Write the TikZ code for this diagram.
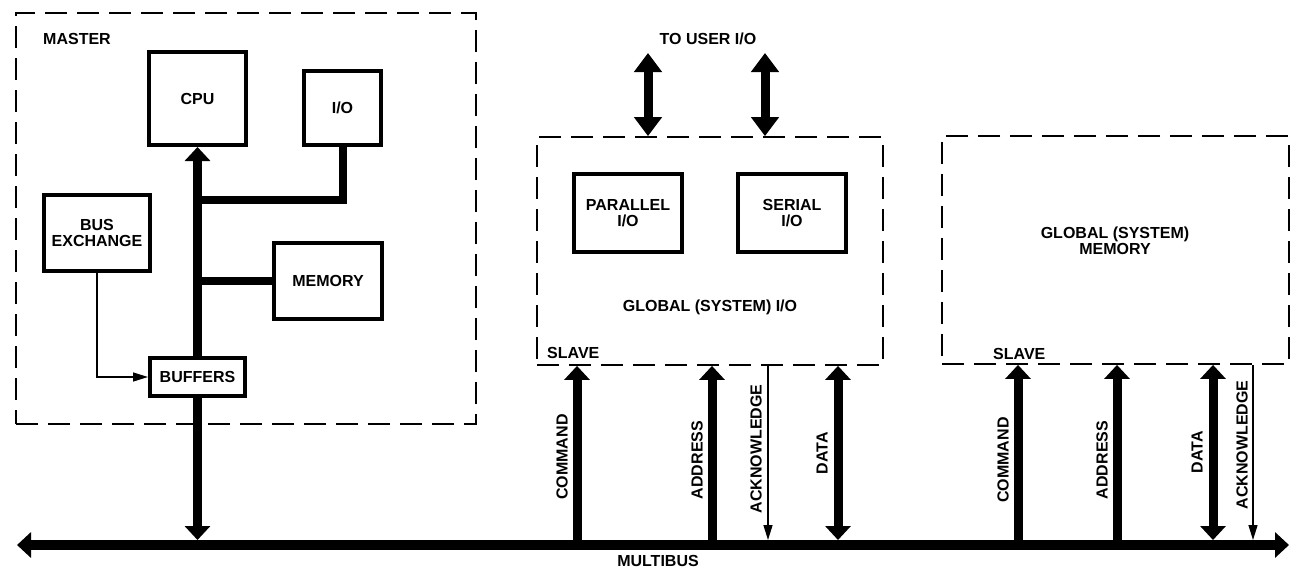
\documentclass[tikz,border=0pt]{standalone}
\usepackage{fontspec}
\setmainfont{Liberation Sans}
\usetikzlibrary{arrows.meta,calc}
\begin{document}
\begin{tikzpicture}[x=1pt,y=-1pt,
  every node/.style={font=\fontsize{16}{16.5}\selectfont\bfseries, inner sep=0pt, align=center},
  box/.style={draw, line width=4pt},
  dashbox/.style={draw, line width=1.8pt, dash pattern=on 22pt off 10pt},
  busline/.style={line width=9pt},
  bigtip/.style={-{Triangle[length=14pt,width=25pt]}},
  bigtips/.style={{Triangle[length=14pt,width=25pt]}-{Triangle[length=14pt,width=25pt]}},
  usertips/.style={{Triangle[length=19pt,width=27pt]}-{Triangle[length=19pt,width=27pt]}},
  thinarrow/.style={line width=1.4pt, -{Triangle[length=15pt,width=9pt]}}
]
\useasboundingbox (0,0) rectangle (1300,573);

% ---------- MASTER ----------
\node[dashbox, minimum width=460pt, minimum height=411pt] (master) at (246,218.5) {};
\node[anchor=west] (masterlbl) at (43,39) {MASTER};
\node[box, minimum width=97pt, minimum height=93pt] (cpu) at (197.5,98.5) {CPU};
\node[box, minimum width=77pt, minimum height=74pt] (io) at (342.5,108) {I/O};
\node[box, minimum width=106pt, minimum height=76pt] (bx) at (97,233) {BUS\\EXCHANGE};
\node[box, minimum width=108pt, minimum height=76pt] (mem) at (328,281) {MEMORY};
\node[box, minimum width=95pt, minimum height=38pt] (buf) at (197.5,377) {BUFFERS};

% ---------- MULTIBUS ----------
\coordinate (busL) at (17,545);
\coordinate (busR) at (1289,545);
\draw[line width=10pt, bigtips] (busL) -- (busR);
\node (multibus) at (658,561) {MULTIBUS};

% master internal bus
\coordinate (j1) at (197.5,200);
\coordinate (j2) at (197.5,281);
\draw[busline, bigtip] (buf.north) -- (cpu.south);
\draw[line width=8pt] (io.south) |- (j1);
\draw[line width=8pt] (mem.west) -- (j2);
\draw[thinarrow] (bx.south) |- (buf.west);
\coordinate (b0) at (197.5,545);
\draw[busline, bigtip, shorten >=5pt] (buf.south) -- (b0);

% ---------- GLOBAL I/O ----------
\node[dashbox, minimum width=346pt, minimum height=228pt] (gio) at (710,251) {};
\node (touser) at (708,39) {TO USER I/O};
\coordinate (u1) at (648,53);
\coordinate (u2) at (765,53);
\draw[busline, usertips] (u1) -- (u1 |- gio.north);
\draw[busline, usertips] (u2) -- (u2 |- gio.north);
\node[box, minimum width=108pt, minimum height=78pt] (par) at (628,213) {PARALLEL\\I/O};
\node[box, minimum width=108pt, minimum height=78pt] (ser) at (792,213) {SERIAL\\I/O};
\node (giolbl) at (710,307) {GLOBAL (SYSTEM) I/O};
\node[anchor=west] (slave1) at (547,353) {SLAVE};

\coordinate (c1) at (577,545);
\coordinate (a1) at (712,545);
\coordinate (k1) at (768,545);
\coordinate (d1) at (838,545);
\draw[busline, bigtip] (c1) -- (c1 |- gio.south);
\draw[busline, bigtip] (a1) -- (a1 |- gio.south);
\draw[thinarrow, shorten >=5pt] (k1 |- gio.south) -- (k1);
\draw[busline, bigtips, shorten <=5pt] (d1) -- (d1 |- gio.south);
\node[rotate=90] (cmd1) at (562,457) {COMMAND};
\node[rotate=90] (adr1) at (697,460) {ADDRESS};
\node[rotate=90] (ack1) at (756,449) {ACKNOWLEDGE};
\node[rotate=90] (dat1) at (822,453) {DATA};

% ---------- GLOBAL MEMORY ----------
\node[dashbox, minimum width=347pt, minimum height=228pt] (gmem) at (1115.5,250) {};
\node (gmemlbl) at (1115,241) {GLOBAL (SYSTEM)\\MEMORY};
\node[anchor=west] (slave2) at (993,354) {SLAVE};

\coordinate (c2) at (1018,545);
\coordinate (a2) at (1117,545);
\coordinate (d2) at (1213,545);
\coordinate (k2) at (1253,545);
\draw[busline, bigtip] (c2) -- (c2 |- gmem.south);
\draw[busline, bigtip] (a2) -- (a2 |- gmem.south);
\draw[busline, bigtips, shorten <=5pt] (d2) -- (d2 |- gmem.south);
\draw[thinarrow, shorten >=5pt] (k2 |- gmem.south) -- (k2);
\node[rotate=90] (cmd2) at (1003,460) {COMMAND};
\node[rotate=90] (adr2) at (1102,460) {ADDRESS};
\node[rotate=90] (dat2) at (1197,452) {DATA};
\node[rotate=90] (ack2) at (1242,445) {ACKNOWLEDGE};
\end{tikzpicture}
\end{document}
